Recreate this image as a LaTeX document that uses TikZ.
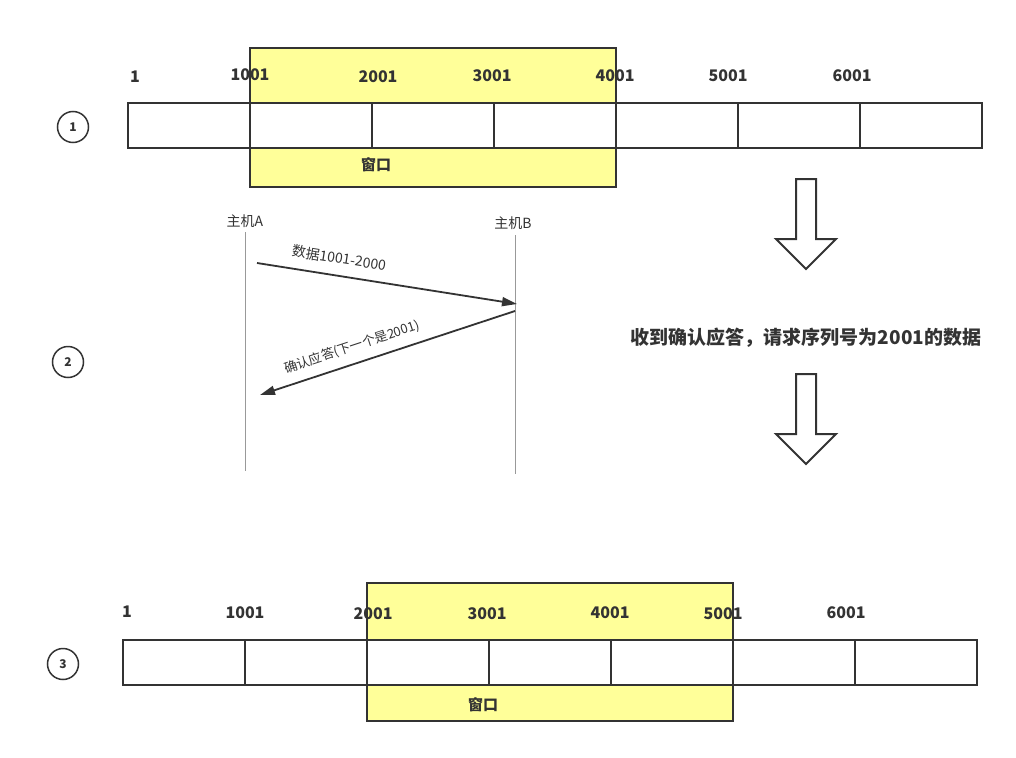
\documentclass[tikz,border=0pt]{standalone}
\usepackage{fontspec}
\setmainfont{Noto Sans CJK SC}
\usetikzlibrary{arrows.meta}
\definecolor{ink}{HTML}{333333}
\definecolor{winyellow}{HTML}{FFFF99}
\definecolor{lifeline}{HTML}{999999}
\tikzset{
  cell/.style={draw=ink, fill=white, line width=2pt, minimum width=122pt, minimum height=45pt, inner sep=0pt, outer sep=0pt, anchor=north west},
  window/.style={draw=ink, fill=winyellow, line width=2pt, inner sep=0pt, outer sep=0pt},
  num/.style={text=ink, font=\bfseries\fontsize{16}{18}\selectfont, inner sep=0pt},
  wlabel/.style={text=ink, font=\bfseries\fontsize{15}{17}\selectfont, inner sep=0pt},
  stepno/.style={draw=ink, circle, line width=1.5pt, minimum size=31pt, inner sep=0pt, text=ink, font=\bfseries\fontsize{12}{14}\selectfont},
  host/.style={text=ink, font=\fontsize{14}{16}\selectfont, inner sep=0pt},
  msg/.style={text=ink, font=\fontsize{14}{16}\selectfont, inner sep=0pt},
  msgarrow/.style={draw=ink, line width=1.8pt, -{Triangle[length=15pt,width=9pt]}},
  bigarrow/.style={draw=ink, fill=white, line width=2pt, line join=miter},
}
\begin{document}
\begin{tikzpicture}[x=1pt,y=-1pt]
\useasboundingbox (0,0) rectangle (1016,757);
\fill[white] (0,0) rectangle (1016,757);

% ---------- row 1 ----------
\node[window, minimum width=366pt, minimum height=139pt] (win1) at (433,117.5) {};
\foreach \i/\x in {1/128,2/250,3/372,4/494,5/616,6/738,7/860}
  \node[cell] (ra\i) at (\x,103) {};
\node[num] (la1) at (135,77) {1};
\node[num] (la2) at (250,75) {1001};
\node[num] (la3) at (378,77) {2001};
\node[num] (la4) at (492,76) {3001};
\node[num] (la5) at (615,76) {4001};
\node[num] (la6) at (728,76) {5001};
\node[num] (la7) at (852,76) {6001};
\node[wlabel] (w1) at (376,165) {窗口};
\node[stepno] (s1) at (73,127) {1};

% ---------- row 2 (sequence) ----------
\node[host] (hA) at (245,221) {主机A};
\node[host] (hB) at (513,223) {主机B};
\coordinate (aTop) at (245,232);
\coordinate (aBot) at (245,471);
\coordinate (bTop) at (515,235);
\coordinate (bBot) at (515,474);
\draw[lifeline, line width=0.8pt] (aTop) -- (aBot);
\draw[lifeline, line width=0.8pt] (bTop) -- (bBot);
\coordinate (m1s) at (257,263);
\coordinate (m1e) at (517,304);
\coordinate (m2s) at (515,311);
\coordinate (m2e) at (260,395);
\draw[msgarrow] (m1s) -- (m1e);
\draw[msgarrow] (m2s) -- (m2e);
\node[msg, rotate=-9] (l1) at (339,258) {数据1001-2000};
\node[msg, rotate=18.2, font=\fontsize{13}{15}\selectfont] (l2) at (352,347) {确认应答(下一个是2001)};
\node[stepno] (s2) at (68,362) {2};

% ---------- big arrows and note ----------
\draw[bigarrow] (796,179) -- (816,179) -- (816,239) -- (836,239) -- (806,269) -- (776,239) -- (796,239) -- cycle;
\node[text=ink, font=\bfseries\fontsize{19}{21}\selectfont, inner sep=0pt] (note) at (806,338) {收到确认应答，请求序列号为2001的数据};
\draw[bigarrow] (796,374) -- (816,374) -- (816,434) -- (836,434) -- (806,464) -- (776,434) -- (796,434) -- cycle;

% ---------- row 3 ----------
\node[window, minimum width=366pt, minimum height=138pt] (win3) at (550,652) {};
\foreach \i/\x in {1/123,2/245,3/367,4/489,5/611,6/733,7/855}
  \node[cell] (rc\i) at (\x,640) {};
\node[num] (lc1) at (127,612) {1};
\node[num] (lc2) at (245,613) {1001};
\node[num] (lc3) at (373,614) {2001};
\node[num] (lc4) at (487,614) {3001};
\node[num] (lc5) at (610,613) {4001};
\node[num] (lc6) at (723,614) {5001};
\node[num] (lc7) at (846,613) {6001};
\node[wlabel] (w3) at (483,705) {窗口};
\node[stepno] (s3) at (63,664) {3};
\end{tikzpicture}
\end{document}
